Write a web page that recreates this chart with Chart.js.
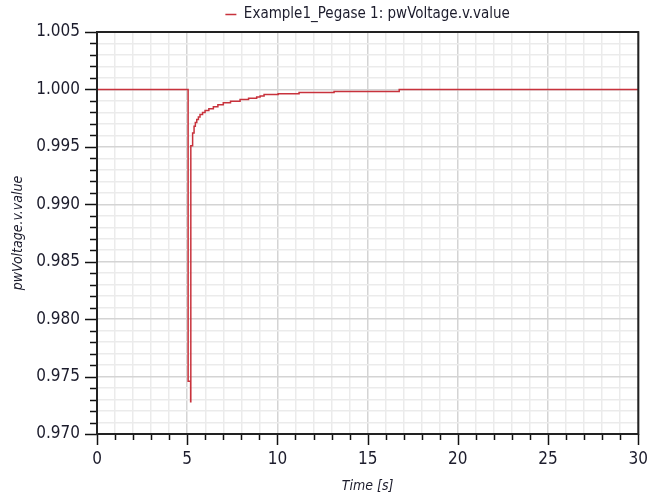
<!DOCTYPE html>
<html>
<head>
<meta charset="utf-8">
<script src="https://cdn.jsdelivr.net/npm/chart.js@4/dist/chart.umd.min.js"></script>
<style>
  html, body { margin: 0; padding: 0; background: #fff; }
  #wrap { width: 648px; height: 497px; }
</style>
</head>
<body>
<div id="wrap"><canvas id="chart"></canvas></div>
<script>
// simulated voltage (stepped output)
const timeValues = [0, 5.05, 5.19, 5.2, 5.3, 5.38, 5.45, 5.53, 5.62, 5.71, 5.85, 5.99, 6.2, 6.45, 6.7, 7.0, 7.4, 7.93, 8.4, 8.85, 9.04, 9.26, 10.04, 11.2, 13.14, 16.75, 30];
const voltageValues = [1.0, 0.9746, 0.9728, 0.9951, 0.9962, 0.9968, 0.99712, 0.99739, 0.99760, 0.99782, 0.99800, 0.99817, 0.99832, 0.99849, 0.99866, 0.99884, 0.99898, 0.99913, 0.99923, 0.99933, 0.99942, 0.99956, 0.99963, 0.99974, 0.99983, 1.0, 1.0];

const xTicksMajor = [0, 5, 10, 15, 20, 25, 30];
const yTicksMajor = [0.970, 0.975, 0.980, 0.985, 0.990, 0.995, 1.000, 1.005];

const FONT = 'Tahoma, "DejaVu Sans Condensed", "DejaVu Sans", sans-serif';
const TXT = '#1c1c2c';
const LINE = '#c8323c';

const isMajorX = v => xTicksMajor.some(m => Math.abs(m - v) < 1e-6);
const isMajorY = v => yTicksMajor.some(m => Math.abs(m - v) < 1e-6);

// tick marks outside the frame (long for major, short for minor) + frame
const frameTicks = {
    id: 'frameTicks',
    afterLayout(chart) {
        // legend sits centred over the plot area, not the canvas
        const lg = chart.legend, a = chart.chartArea;
        const dx = (a.left + a.right) / 2 - (lg.left + lg.right) / 2;
        lg.left += dx;
        lg.right += dx;
    },
    afterDraw(chart) {
        const { ctx, chartArea: a } = chart;
        const sx = chart.scales.x, sy = chart.scales.y;
        ctx.save();
        ctx.strokeStyle = '#111';
        ctx.lineWidth = 1.5;
        ctx.beginPath();
        sx.ticks.forEach(t => {
            const px = Math.round(sx.getPixelForValue(t.value)) + 0.5;
            ctx.moveTo(px, a.bottom);
            ctx.lineTo(px, a.bottom + (isMajorX(t.value) ? 11 : 6));
        });
        sy.ticks.forEach(t => {
            const py = Math.round(sy.getPixelForValue(t.value)) + 0.5;
            ctx.moveTo(a.left, py);
            ctx.lineTo(a.left - (isMajorY(t.value) ? 12 : 7), py);
        });
        ctx.stroke();
        ctx.lineWidth = 2;
        ctx.strokeStyle = '#222';
        ctx.strokeRect(a.left, a.top, a.right - a.left, a.bottom - a.top);
        ctx.restore();
    }
};

new Chart(document.getElementById('chart'), {
    type: 'line',
    data: {
        datasets: [{
            label: 'Example1_Pegase 1: pwVoltage.v.value',
            data: timeValues.map((t, i) => ({ x: t, y: voltageValues[i] })),
            borderColor: LINE,
            backgroundColor: LINE,
            borderWidth: 1.5,
            pointRadius: 0,
            stepped: 'before',
            fill: false,
        }]
    },
    options: {
        responsive: true,
        maintainAspectRatio: false,
        animation: false,
        layout: { padding: { top: 1, right: 0, left: 0, bottom: 0 } },
        plugins: {
            legend: {
                position: 'top',
                labels: {
                    font: { family: FONT, size: 15 },
                    color: TXT,
                    usePointStyle: true,
                    pointStyle: 'line',
                    pointStyleWidth: 11,
                    padding: 6,
                }
            },
            tooltip: { enabled: false }
        },
        scales: {
            x: {
                type: 'linear',
                min: 0, max: 30,
                ticks: {
                    stepSize: 1,
                    autoSkip: false,
                    maxRotation: 0,
                    padding: 0,
                    font: { family: FONT, size: 17 },
                    color: TXT,
                    callback: v => isMajorX(v) ? String(v) : ''
                },
                grid: {
                    drawTicks: true,
                    tickLength: 15,
                    tickColor: 'rgba(0,0,0,0)',
                    color: c => isMajorX(c.tick.value) ? '#d4d4d4' : '#ebebeb',
                    lineWidth: 1.5,
                },
                border: { display: false },
                title: {
                    display: true,
                    text: 'Time [s]',
                    font: { family: FONT, size: 14, style: 'italic' },
                    color: TXT,
                    padding: { top: 4, bottom: 2 }
                },
                afterFit: s => { s.height = 63; }
            },
            y: {
                type: 'linear',
                min: 0.970, max: 1.005,
                ticks: {
                    stepSize: 0.001,
                    autoSkip: false,
                    padding: 0,
                    font: { family: FONT, size: 17 },
                    color: TXT,
                    callback: v => isMajorY(v) ? v.toFixed(3) : ''
                },
                grid: {
                    drawTicks: true,
                    tickLength: 17,
                    tickColor: 'rgba(0,0,0,0)',
                    color: c => isMajorY(c.tick.value) ? '#d4d4d4' : '#ebebeb',
                    lineWidth: 1.5,
                },
                border: { display: false },
                title: {
                    display: true,
                    text: 'pwVoltage.v.value',
                    font: { family: FONT, size: 14, style: 'italic' },
                    color: TXT,
                    padding: { top: 10, bottom: 4 }
                },
                afterFit: s => { s.width = 97; }
            }
        }
    },
    plugins: [frameTicks]
});
</script>
</body>
</html>
